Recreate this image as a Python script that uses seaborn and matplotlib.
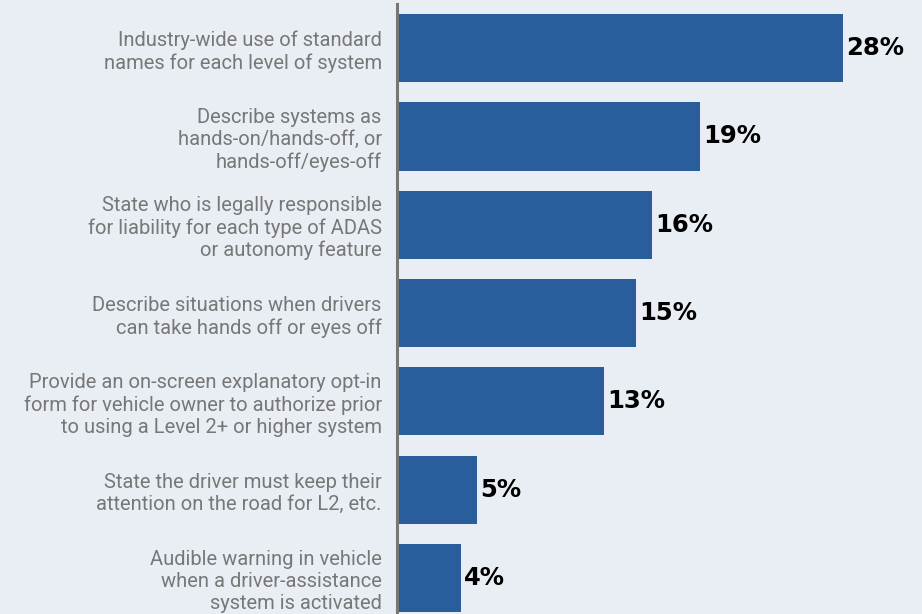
import matplotlib
matplotlib.use("Agg")
import matplotlib.pyplot as plt
import seaborn as sns
import pandas as pd

categories = [
    "Industry-wide use of standard\nnames for each level of system",
    "Describe systems as\nhands-on/hands-off, or\nhands-off/eyes-off",
    "State who is legally responsible\nfor liability for each type of ADAS\nor autonomy feature",
    "Describe situations when drivers\ncan take hands off or eyes off",
    "Provide an on-screen explanatory opt-in\nform for vehicle owner to authorize prior\nto using a Level 2+ or higher system",
    "State the driver must keep their\nattention on the road for L2, etc.",
    "Audible warning in vehicle\nwhen a driver-assistance\nsystem is activated",
]
values = [28, 19, 16, 15, 13, 5, 4]

df = pd.DataFrame({"item": categories, "pct": values})

bg = "#e9edf4"
bar_color = "#2a5d9b"

sns.set_theme(style="white")
plt.rcParams["font.family"] = ["Roboto", "DejaVu Sans"]

fig = plt.figure(figsize=(9.22, 6.14), dpi=100, facecolor=bg)
ax = fig.add_axes([397 / 922, 0, 1 - 397 / 922, 610 / 614])
ax.set_facecolor(bg)

sns.barplot(data=df, x="pct", y="item", orient="h", color=bar_color,
            width=0.77, saturation=1, linewidth=0, ax=ax)

ax.set_xlim(0, 32.96)
ax.set_ylim(-0.5 + 610 / 88.33, -0.5)

for i, v in enumerate(values):
    ax.text(v + 0.22, i, f"{v}%", va="center", ha="left",
            fontsize=17.5, fontweight="bold", color="black",
            family=["DejaVu Sans"])

ax.set_xlabel("")
ax.set_ylabel("")
ax.set_xticks([])
ax.tick_params(axis="y", length=0, pad=11, labelsize=14.5, labelcolor="#777777")
for lbl in ax.get_yticklabels():
    lbl.set_linespacing(1.2)

for side in ["top", "right", "bottom"]:
    ax.spines[side].set_visible(False)
ax.spines["left"].set_color("#777777")
ax.spines["left"].set_linewidth(2.2)

fig.savefig("out.png", dpi=100, facecolor=bg)
